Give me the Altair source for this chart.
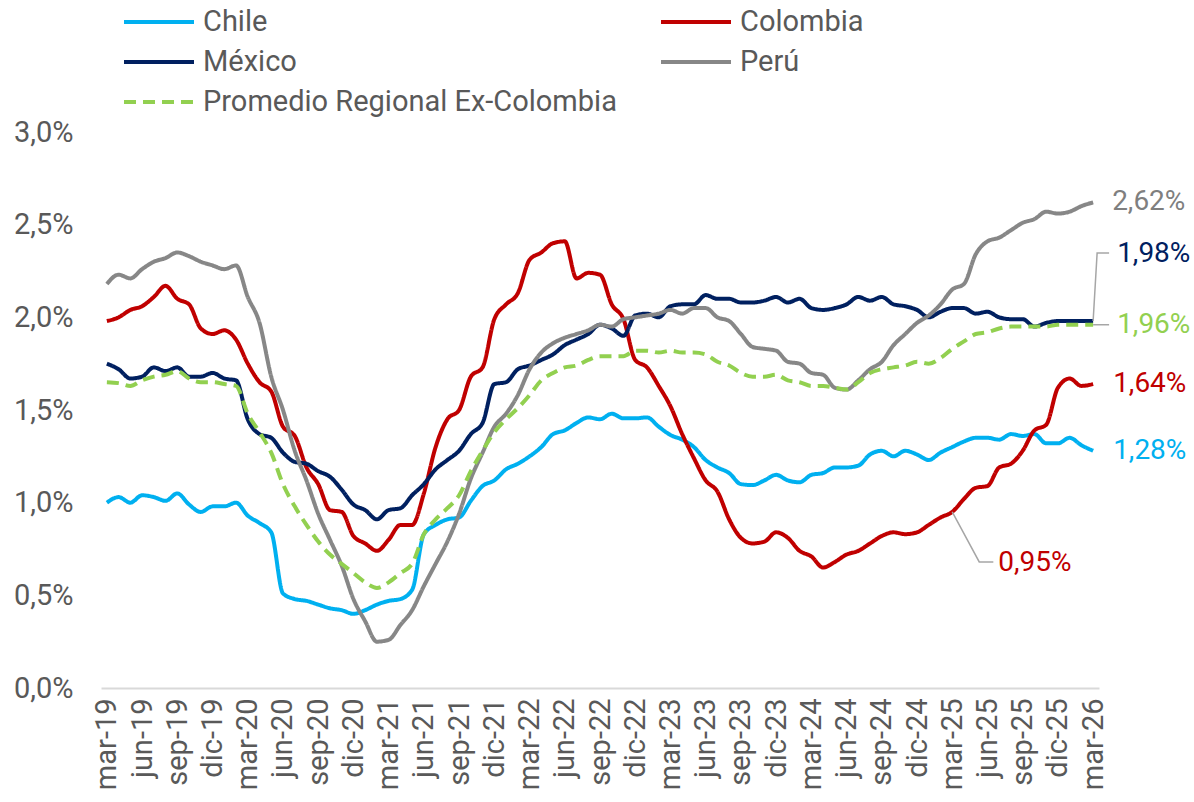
import altair as alt
import pandas as pd

# Monthly series, mar-19 .. mar-26 (85 months), in percent
chile = [1.00, 1.03, 1.00, 1.04, 1.03, 1.01, 1.05, 0.99, 0.95, 0.98, 0.98, 1.00, 0.93, 0.89, 0.84,
         0.51, 0.48, 0.47, 0.45, 0.43, 0.42, 0.40, 0.42, 0.45, 0.47, 0.48, 0.53, 0.83, 0.88, 0.91,
         0.92, 1.01, 1.09, 1.12, 1.18, 1.21, 1.25, 1.30, 1.37, 1.39, 1.43, 1.46, 1.45, 1.48, 1.455,
         1.455, 1.46, 1.41, 1.365, 1.34, 1.30, 1.23, 1.19, 1.16, 1.10, 1.095, 1.12, 1.15, 1.12, 1.11,
         1.15, 1.16, 1.19, 1.19, 1.20, 1.26, 1.28, 1.25, 1.28, 1.26, 1.23, 1.27, 1.30, 1.33, 1.35,
         1.35, 1.34, 1.37, 1.36, 1.37, 1.32, 1.32, 1.35, 1.31, 1.28]
colombia = [1.98, 2.00, 2.04, 2.06, 2.11, 2.17, 2.10, 2.07, 1.94, 1.91, 1.93, 1.88, 1.75, 1.65, 1.60,
            1.41, 1.36, 1.19, 1.10, 0.96, 0.95, 0.82, 0.78, 0.74, 0.80, 0.88, 0.88, 1.05, 1.30, 1.45,
            1.50, 1.68, 1.73, 1.99, 2.07, 2.13, 2.31, 2.35, 2.40, 2.41, 2.21, 2.24, 2.23, 2.07, 1.99,
            1.77, 1.73, 1.63, 1.52, 1.37, 1.24, 1.12, 1.06, 0.91, 0.81, 0.78, 0.79, 0.84, 0.81, 0.74,
            0.71, 0.65, 0.68, 0.72, 0.74, 0.78, 0.82, 0.84, 0.83, 0.84, 0.88, 0.92, 0.95, 1.02, 1.08,
            1.09, 1.19, 1.21, 1.28, 1.39, 1.42, 1.62, 1.67, 1.63, 1.64]
mexico = [1.75, 1.72, 1.67, 1.68, 1.73, 1.71, 1.73, 1.68, 1.68, 1.70, 1.67, 1.66, 1.45, 1.37, 1.35,
          1.27, 1.22, 1.21, 1.17, 1.14, 1.07, 0.99, 0.96, 0.91, 0.96, 0.97, 1.04, 1.10, 1.18, 1.23,
          1.28, 1.37, 1.43, 1.64, 1.65, 1.72, 1.74, 1.77, 1.80, 1.85, 1.88, 1.91, 1.96, 1.94, 1.90,
          2.01, 2.02, 2.00, 2.06, 2.07, 2.07, 2.12, 2.10, 2.10, 2.08, 2.08, 2.09, 2.11, 2.08, 2.10,
          2.05, 2.04, 2.05, 2.07, 2.11, 2.09, 2.11, 2.07, 2.06, 2.04, 2.00, 2.03, 2.05, 2.05, 2.02,
          2.03, 2.00, 1.99, 1.99, 1.95, 1.97, 1.98, 1.98, 1.98, 1.98]
peru = [2.18, 2.23, 2.21, 2.26, 2.30, 2.32, 2.35, 2.33, 2.30, 2.28, 2.26, 2.28, 2.11, 1.97, 1.68,
        1.50, 1.28, 1.12, 0.94, 0.80, 0.66, 0.48, 0.36, 0.25, 0.26, 0.34, 0.42, 0.55, 0.67, 0.79,
        0.94, 1.13, 1.27, 1.41, 1.48, 1.58, 1.72, 1.81, 1.86, 1.89, 1.91, 1.93, 1.96, 1.95, 1.99,
        2.00, 2.01, 2.02, 2.04, 2.02, 2.05, 2.05, 2.00, 1.98, 1.91, 1.84, 1.83, 1.82, 1.76, 1.75,
        1.70, 1.69, 1.62, 1.61, 1.66, 1.72, 1.76, 1.85, 1.91, 1.97, 2.01, 2.07, 2.15, 2.18, 2.34,
        2.41, 2.43, 2.47, 2.51, 2.53, 2.57, 2.56, 2.57, 2.60, 2.62]
promedio = [1.65, 1.645, 1.63, 1.66, 1.68, 1.69, 1.71, 1.67, 1.65, 1.65, 1.64, 1.63, 1.48, 1.38, 1.27,
            1.10, 0.98, 0.88, 0.79, 0.72, 0.67, 0.62, 0.57, 0.54, 0.57, 0.62, 0.67, 0.83, 0.91, 0.97,
            1.04, 1.17, 1.28, 1.38, 1.45, 1.51, 1.58, 1.66, 1.70, 1.73, 1.74, 1.77, 1.79, 1.79, 1.79,
            1.82, 1.82, 1.81, 1.82, 1.81, 1.81, 1.80, 1.76, 1.74, 1.70, 1.68, 1.68, 1.69, 1.66, 1.65,
            1.63, 1.63, 1.62, 1.61, 1.65, 1.70, 1.72, 1.73, 1.74, 1.76, 1.75, 1.78, 1.83, 1.87, 1.91,
            1.92, 1.94, 1.95, 1.95, 1.95, 1.95, 1.96, 1.96, 1.96, 1.96]

tick_labels = ["mar-19", "jun-19", "sep-19", "dic-19", "mar-20", "jun-20", "sep-20", "dic-20",
               "mar-21", "jun-21", "sep-21", "dic-21", "mar-22", "jun-22", "sep-22", "dic-22",
               "mar-23", "jun-23", "sep-23", "dic-23", "mar-24", "jun-24", "sep-24", "dic-24",
               "mar-25", "jun-25", "sep-25", "dic-25", "mar-26"]

series_names = ["Chile", "Colombia", "México", "Perú", "Promedio Regional Ex-Colombia"]
series_values = [chile, colombia, mexico, peru, promedio]
series_colors = ["#00B0F0", "#C00000", "#002060", "#878787", "#92D050"]
series_dash = [[1, 0], [1, 0], [1, 0], [1, 0], [12, 7]]

FONT = "Roboto"
TEXT = "#595959"
FS_AXIS = 29
FS_LEGEND = 29
FS_VALUE = 28

rows = []
for name, vals in zip(series_names, series_values):
    for i, v in enumerate(vals):
        rows.append({"idx": i, "serie": name, "valor": v})
df = pd.DataFrame(rows)

label_expr = "[" + ",".join(f"'{t}'" for t in tick_labels) + "][round(datum.value / 3)]"

x_enc = alt.X("idx:Q",
              scale=alt.Scale(domain=[-0.5, 84.5], nice=False, zero=False),
              axis=alt.Axis(title=None, values=list(range(0, 85, 3)), tickCount=100,
                            labelExpr=label_expr, labelAngle=270, labelFontSize=FS_AXIS,
                            labelFont=FONT, labelColor=TEXT, labelPadding=10, ticks=False,
                            grid=False, domainColor="#d9d9d9", domainWidth=2,
                            labelOverlap=False, labelFlush=False))
y_enc = alt.Y("valor:Q",
              scale=alt.Scale(domain=[0, 3], nice=False),
              axis=alt.Axis(title=None, values=[0, 0.5, 1.0, 1.5, 2.0, 2.5, 3.0],
                            labelExpr="replace(format(datum.value, '.1f'), '.', ',') + '%'",
                            labelFontSize=FS_AXIS, labelFont=FONT, labelColor=TEXT,
                            labelPadding=28, ticks=False, grid=False, domain=False))

legend = alt.Legend(title=None, orient="none", legendX=21, legendY=-130, columns=2,
                    direction="horizontal", columnPadding=42, rowPadding=0, clipHeight=40,
                    symbolType="stroke", symbolSize=4900, symbolStrokeWidth=4,
                    labelFontSize=FS_LEGEND, labelFont=FONT, labelColor=TEXT,
                    labelOffset=7, labelLimit=700)

lines = alt.Chart(df).mark_line(strokeWidth=4, interpolate="monotone").encode(
    x=x_enc,
    y=y_enc,
    color=alt.Color("serie:N", sort=series_names,
                    scale=alt.Scale(domain=series_names, range=series_colors), legend=legend),
    strokeDash=alt.StrokeDash("serie:N", sort=series_names,
                              scale=alt.Scale(domain=series_names, range=series_dash),
                              legend=legend),
    order=alt.Order("idx:Q"),
)


def fmt(v):
    return f"{v:.2f}".replace(".", ",") + "%"


def value_label(idx, value, color, dx, dy=0):
    d = pd.DataFrame({"idx": [idx], "valor": [value], "txt": [fmt(value)]})
    return alt.Chart(d).mark_text(align="left", baseline="middle", font=FONT, fontSize=FS_VALUE,
                                  color=color, dx=dx, dy=dy).encode(
        x="idx:Q", y="valor:Q", text="txt:N")


last = len(chile) - 1
mar25 = 72
labels = [
    value_label(last, peru[last], "#7F7F7F", 19),
    value_label(last, mexico[last], "#002060", 24, -67),
    value_label(last, promedio[last], "#92D050", 24),
    value_label(last, colombia[last], "#C00000", 20),
    value_label(last, chile[last], "#00B0F0", 20),
    value_label(mar25, colombia[mar25], "#C00000", 46, 51),
]

# leader lines from the labelled points out to their labels (data units)
leader_rows = [
    {"g": "mx", "k": 0, "idx": last, "valor": mexico[last]},
    {"g": "mx", "k": 1, "idx": last + 0.34, "valor": mexico[last] + 0.367},
    {"g": "mx", "k": 2, "idx": last + 1.36, "valor": mexico[last] + 0.367},
    {"g": "pr", "k": 0, "idx": last, "valor": promedio[last]},
    {"g": "pr", "k": 1, "idx": last + 1.36, "valor": promedio[last]},
    {"g": "co", "k": 0, "idx": mar25, "valor": colombia[mar25]},
    {"g": "co", "k": 1, "idx": mar25 + 2.3, "valor": colombia[mar25] - 0.27},
    {"g": "co", "k": 2, "idx": mar25 + 3.5, "valor": colombia[mar25] - 0.27},
]
leaders = alt.Chart(pd.DataFrame(leader_rows)).mark_line(
    color="#A6A6A6", strokeWidth=1.5).encode(
    x="idx:Q", y="valor:Q", detail="g:N", order="k:Q")

chart = alt.layer(lines, leaders, *labels).properties(
    width=998, height=556,
    autosize=alt.AutoSizeParams(type="none"),
    padding={"left": 101, "top": 132, "right": 95, "bottom": 114},
    background="white",
).configure_view(stroke=None)

chart.save("out.html", embed_options={"renderer": "svg", "actions": False})
